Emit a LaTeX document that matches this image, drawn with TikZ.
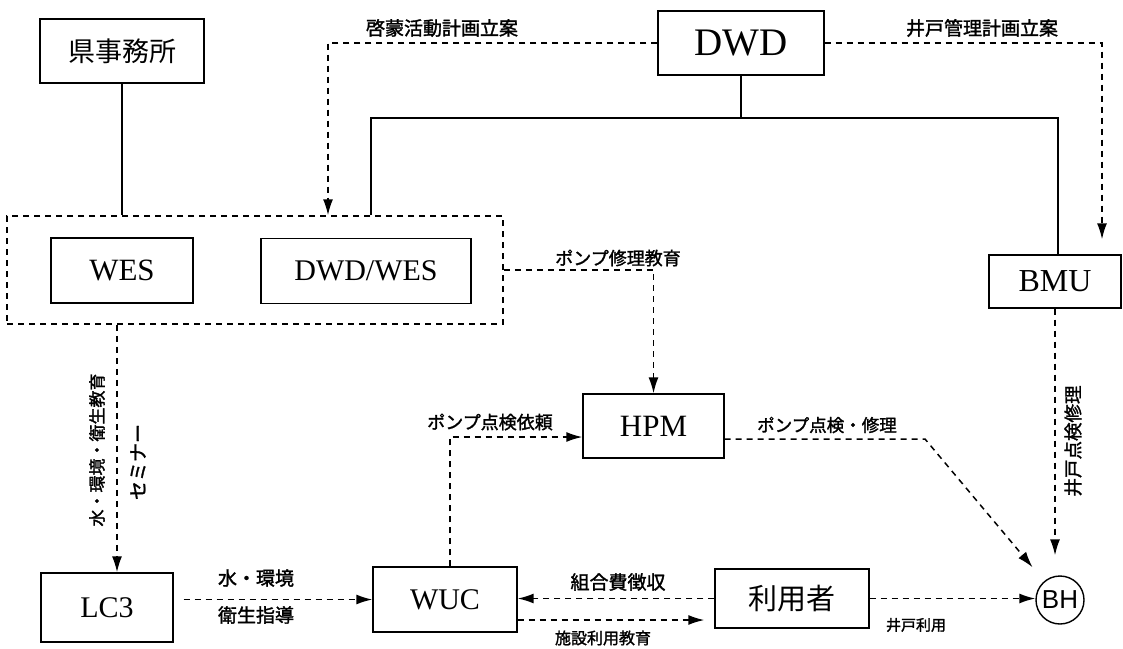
\documentclass[tikz,border=0pt]{standalone}
\usepackage{fontspec}
\setmainfont{Liberation Serif}
\newfontfamily\jpfont{Noto Sans CJK JP}[FakeBold=1.6]
\newfontfamily\jpbig{Noto Sans CJK JP}
\newfontfamily\sansf{Liberation Sans}
\usetikzlibrary{arrows.meta,calc}
\newcommand\jfs[1]{\jpfont\fontsize{#1}{#1}\selectfont}
\newcommand\jbs[1]{\jpbig\fontsize{#1}{#1}\selectfont}
\newcommand\sfs[1]{\fontsize{#1}{#1}\selectfont}
\begin{document}
\begin{tikzpicture}[x=1pt,y=-1pt,
  box/.style={draw,line width=1.4pt,inner sep=0pt,anchor=center},
  dsh/.style={line width=1.5pt,dash pattern=on 6pt off 5pt},
  arr/.style={dsh,-{Latex[length=16pt,width=10pt]}},
  sline/.style={line width=1.6pt},
  lbl/.style={inner sep=0pt}]
\useasboundingbox (0,0) rectangle (1123,648);
\fill[white] (0,0) rectangle (1123,648);
% boxes
\node[box,minimum width=164pt,minimum height=64pt,font=\jbs{27}] (ken) at (122,51) {県事務所};
\node[box,minimum width=166pt,minimum height=64pt,font=\sfs{39}] (dwd) at (741,43) {DWD};
\node[box,dsh,minimum width=496pt,minimum height=108pt] (grp) at (255,270) {};
\node[box,minimum width=142pt,minimum height=65pt,font=\sfs{31}] (wes) at (122,270.5) {WES};
\node[box,minimum width=210pt,minimum height=65pt,font=\sfs{30}] (dwdwes) at (366,271) {DWD/WES};
\node[box,minimum width=132pt,minimum height=53pt,font=\sfs{32}] (bmu) at (1055,281.5) {BMU};
\node[box,minimum width=141pt,minimum height=64pt,font=\sfs{31}] (hpm) at (653.5,426) {HPM};
\node[box,minimum width=132pt,minimum height=69pt,font=\sfs{30}] (lc3) at (107,607.5) {LC3};
\node[box,minimum width=144pt,minimum height=65pt,font=\sfs{30}] (wuc) at (445,599.5) {WUC};
\node[box,minimum width=154pt,minimum height=59pt,font=\jbs{29}] (user) at (792,598.5) {利用者};
\node[draw,circle,line width=1.4pt,minimum size=48pt,inner sep=0pt,font=\sansf\sfs{26}] (bh) at (1060,600) {BH};
% helper coordinates
\coordinate (k1) at (328,43);
\coordinate (k2) at (1102,43);
\coordinate (tl) at (371,118);
\coordinate (tr) at (1058,118);
\coordinate (lx) at (117,0);
\coordinate (w1) at (450,437);
\coordinate (h1) at (925,439);
\coordinate (u2) at (0,620);
% solid tree
\draw[sline] (dwd.south) -- (dwd.south |- tl);
\draw[sline] (grp.north -| tl) -- (tl) -- (tr) -- (bmu.north -| tr);
\draw[sline] (ken.south) -- (grp.north -| ken.south);
% dashed arrows
\draw[arr] (dwd.west) -- (k1) -- (grp.north -| k1);
\draw[arr,shorten >=15pt] (dwd.east) -- (k2) -- (bmu.north -| k2);
\draw[arr] (grp.east) -| (hpm.north);
\draw[arr] (grp.south -| lx) -- (lc3.north -| lx);
\draw[arr,shorten <=10pt] (lc3.east |- wuc.west) -- (wuc.west);
\draw[arr] (wuc.north -| w1) -- (w1) -- (hpm.west |- w1);
\draw[arr,shorten >=18pt] (hpm.east |- h1) -- (h1) -- (bh);
\draw[arr,shorten >=20pt] (bmu.south) -- (bmu.south |- bh.north);
\draw[arr] (user.west) -- (wuc.east |- user.west);
\draw[arr,shorten >=10pt] (wuc.east |- u2) -- (user.west |- u2);
\draw[arr] (user.east) -- (bh.west |- user.east);
% labels
\node[lbl,font=\jfs{19}] (l1) at (442,28) {啓蒙活動計画立案};
\node[lbl,font=\jfs{19}] (l2) at (982,28) {井戸管理計画立案};
\node[lbl,font=\jfs{18}] (l3) at (618,258) {ポンプ修理教育};
\node[lbl,rotate=90,font=\jfs{17}] (l4) at (97,450) {水・環境・衛生教育};
\node[lbl,rotate=90,font=\jfs{19}] (l5) at (138,462) {セミナー};
\node[lbl,font=\jfs{18}] (l6) at (490,422) {ポンプ点検依頼};
\node[lbl,font=\jfs{17.5}] (l7) at (827,425) {ポンプ点検・修理};
\node[lbl,rotate=90,font=\jfs{18.5}] (l8) at (1073,441) {井戸点検修理};
\node[lbl,font=\jfs{19}] (l9) at (256,578) {水・環境};
\node[lbl,font=\jfs{19}] (l10) at (256,615) {衛生指導};
\node[lbl,font=\jfs{19}] (l11) at (618,582) {組合費徴収};
\node[lbl,font=\jfs{16}] (l12) at (603,638) {施設利用教育};
\node[lbl,font=\jfs{15}] (l13) at (916,625) {井戸利用};
\end{tikzpicture}
\end{document}
